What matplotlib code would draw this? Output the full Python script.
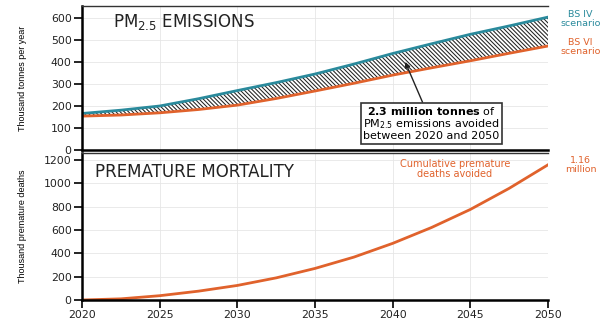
"""PM2.5 emissions and premature mortality: BS IV vs BS VI scenarios."""

import matplotlib
matplotlib.use('Agg')
import matplotlib.pyplot as plt

plt.rcParams['font.family'] = ['DejaVu Sans']
plt.rcParams['mathtext.default'] = 'regular'
plt.rcParams['hatch.linewidth'] = 0.75

TEAL = '#2a8a9c'
ORANGE = '#e0622c'

years = [2020, 2022.5, 2025, 2027.5, 2030, 2032.5, 2035,
         2037.5, 2040, 2042.5, 2045, 2047.5, 2050]
bs4_emissions = [166, 181, 200, 233, 270, 306, 345,
                 390, 438, 482, 525, 563, 603]
bs6_emissions = [154, 159, 169, 184, 204, 234, 268,
                 303, 340, 373, 405, 439, 472]
deaths_avoided = [0, 10, 37, 76, 125, 190, 271,
                  368, 486, 622, 777, 958, 1160]
year_ticks = [2020, 2025, 2030, 2035, 2040, 2045, 2050]
emission_ticks = [0, 100, 200, 300, 400, 500, 600]
death_ticks = [0, 200, 400, 600, 800, 1000, 1200]

fig = plt.figure(figsize=(6.13, 3.2), dpi=100)
ax1 = fig.add_axes([0.134, 0.531, 0.760, 0.450])
ax2 = fig.add_axes([0.134, 0.0625, 0.760, 0.459])


def _format_ax(ax, yticks, ylim):
    """Common look for both panels."""
    ax.set_xlim(2020, 2050)
    ax.set_ylim(0, ylim)
    ax.set_xticks(year_ticks)
    ax.set_yticks(yticks)
    ax.grid(True, color='#e6e6e6', linewidth=0.6)
    ax.set_axisbelow(True)
    ax.spines['right'].set_visible(False)
    ax.spines['left'].set_linewidth(1.8)
    ax.spines['bottom'].set_linewidth(1.8)
    ax.spines['top'].set_linewidth(1.0)
    ax.spines['top'].set_color('#333333')
    ax.tick_params(axis='both', direction='out', length=6, width=1.2,
                   labelsize=7.8, pad=1.5, labelcolor='#222222')
    ax.yaxis.set_label_coords(-0.118, 0.5)


_format_ax(ax1, emission_ticks, 653)
_format_ax(ax2, death_ticks, 1260)
ax1.tick_params(axis='x', length=0, labelbottom=False)

# top panel: emissions
ax1.fill_between(years, bs6_emissions, bs4_emissions, facecolor='white',
                 edgecolor='#222222', hatch='\\\\\\\\\\\\\\\\', linewidth=0)
ax1.plot(years, bs4_emissions, color=TEAL, linewidth=2.0)
ax1.plot(years, bs6_emissions, color=ORANGE, linewidth=2.0)
ax1.set_ylabel('Thousand tonnes per year', fontsize=6.5,
               family='Liberation Sans')
ax1.text(2022.0, 558, 'PM$_{2.5}$ EMISSIONS', fontsize=12,
         color='#222222', va='baseline')
ax1.text(2052.1, 595, 'BS IV\nscenario', color=TEAL, fontsize=6.8,
         ha='center', va='center', linespacing=0.95, clip_on=False)
ax1.text(2052.1, 467, 'BS VI\nscenario', color=ORANGE, fontsize=6.8,
         ha='center', va='center', linespacing=0.95, clip_on=False)
ax1.annotate('$\\bf{2.3\\ million\\ tonnes}$ of\n'
             'PM$_{2.5}$ emissions avoided\nbetween 2020 and 2050',
             xy=(2040.8, 400), xytext=(2042.5, 122),
             ha='center', va='center', fontsize=8, linespacing=1.0,
             bbox=dict(boxstyle='square,pad=0.22', facecolor='white',
                       edgecolor='#333333', linewidth=1.2),
             arrowprops=dict(arrowstyle='-|>', color='#222222',
                             linewidth=1.0, mutation_scale=8,
                             shrinkA=0, shrinkB=0))

# bottom panel: premature mortality
ax2.plot(years, deaths_avoided, color=ORANGE, linewidth=2.0)
ax2.set_ylabel('Thousand premature deaths', fontsize=6.5,
               family='Liberation Sans')
ax2.text(2020.84, 1054, 'PREMATURE MORTALITY', fontsize=12,
         color='#222222', va='baseline')
ax2.text(2044.0, 1122, 'Cumulative premature\ndeaths avoided',
         color=ORANGE, fontsize=7.0, ha='center', va='center',
         linespacing=0.95)
ax2.text(2052.1, 1160, '1.16\nmillion', color=ORANGE, fontsize=6.8,
         ha='center', va='center', linespacing=0.95, clip_on=False)

fig.savefig('out.png', dpi=100)
